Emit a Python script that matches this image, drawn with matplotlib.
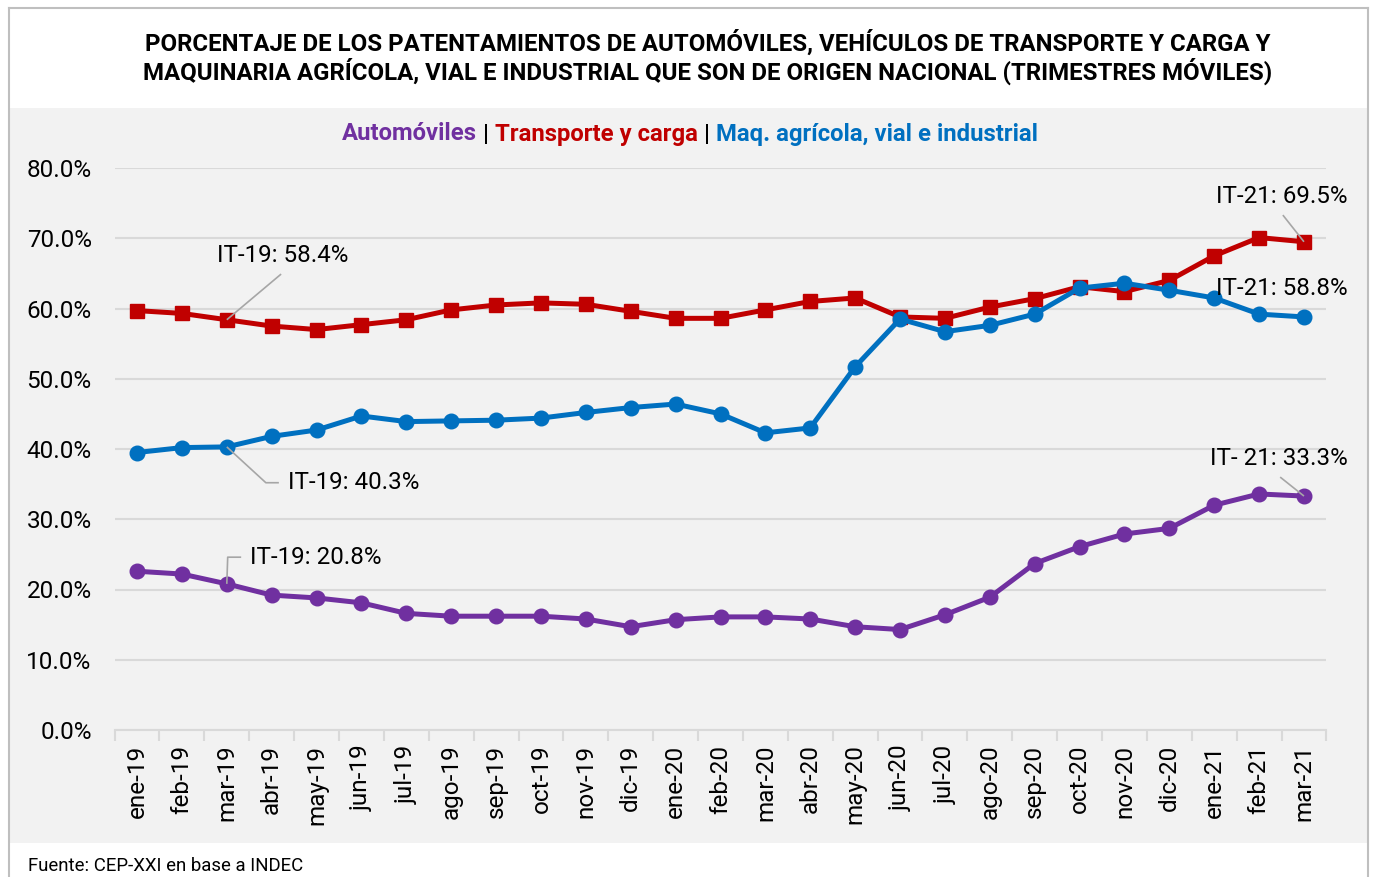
import matplotlib
matplotlib.use("Agg")
import matplotlib.pyplot as plt
from matplotlib.patches import Rectangle
from matplotlib.lines import Line2D

plt.rcParams['font.family'] = ['Roboto', 'DejaVu Sans']

months = ["ene-19", "feb-19", "mar-19", "abr-19", "may-19", "jun-19", "jul-19", "ago-19",
          "sep-19", "oct-19", "nov-19", "dic-19", "ene-20", "feb-20", "mar-20", "abr-20",
          "may-20", "jun-20", "jul-20", "ago-20", "sep-20", "oct-20", "nov-20", "dic-20",
          "ene-21", "feb-21", "mar-21"]

automoviles = [22.6, 22.2, 20.8, 19.2, 18.8, 18.1, 16.6, 16.2, 16.2, 16.2, 15.8, 14.7,
               15.7, 16.1, 16.1, 15.8, 14.7, 14.3, 16.4, 18.9, 23.7, 26.1, 27.9, 28.7,
               32.0, 33.6, 33.3]
transporte = [59.7, 59.3, 58.4, 57.5, 57.0, 57.7, 58.4, 59.8, 60.5, 60.8, 60.6, 59.6,
              58.6, 58.6, 59.8, 61.0, 61.5, 58.8, 58.6, 60.2, 61.4, 63.1, 62.4, 64.0,
              67.5, 70.1, 69.5]
maquinaria = [39.5, 40.2, 40.3, 41.8, 42.7, 44.7, 43.9, 44.0, 44.1, 44.4, 45.2, 45.9,
              46.4, 45.0, 42.3, 43.0, 51.7, 58.5, 56.7, 57.6, 59.2, 62.9, 63.6, 62.6,
              61.5, 59.2, 58.8]

yticks = [0, 10, 20, 30, 40, 50, 60, 70, 80]

C_AUTO = "#7030A0"
C_TRANS = "#C00000"
C_MAQ = "#0070C0"
C_LEAD = "#a6a6a6"

W, H = 1373, 877
fig = plt.figure(figsize=(W / 100, H / 100), dpi=100)
fig.patch.set_facecolor("white")

def fx(px):
    return px / W

def fy(py):
    return 1 - py / H

# gray panel
fig.patches.append(Rectangle((fx(9), fy(843)), fx(1368) - fx(9), fy(108) - fy(843),
                             transform=fig.transFigure, facecolor="#f2f2f2",
                             edgecolor="none", zorder=-5))
# outer border
for xs, ys in [([9, 9], [8, 877]), ([1368, 1368], [8, 877]), ([9, 1368], [8, 8])]:
    fig.lines.append(Line2D([fx(x) for x in xs], [fy(y) for y in ys],
                            transform=fig.transFigure, color="#bfbfbf", lw=1.5, zorder=-4))

fig.text(fx(708), fy(57), "PORCENTAJE DE LOS PATENTAMIENTOS DE AUTOMÓVILES, VEHÍCULOS DE TRANSPORTE Y CARGA Y\n"
         "MAQUINARIA AGRÍCOLA, VIAL E INDUSTRIAL QUE SON DE ORIGEN NACIONAL (TRIMESTRES MÓVILES)",
         ha="center", va="center", fontsize=17.3, fontweight="bold", color="black",
         linespacing=1.1)

# legend-like colored header
parts = [("Automóviles", C_AUTO), (" | ", "black"), ("Transporte y carga", C_TRANS),
         (" | ", "black"), ("Maq. agrícola, vial e industrial", C_MAQ)]
fig.canvas.draw()
renderer = fig.canvas.get_renderer()
texts = []
widths = []
for s, c in parts:
    t = fig.text(0, fy(134), s, color=c, fontsize=17.2, fontweight="bold",
                 ha="left", va="center")
    bb = t.get_window_extent(renderer=renderer)
    texts.append(t)
    widths.append(bb.width)
total = sum(widths)
start = 690 - total / 2
for t, w in zip(texts, widths):
    t.set_x(fx(start))
    start += w

fig.text(fx(28), fy(866), "Fuente: CEP-XXI en base a INDEC", fontsize=13.4,
         ha="left", va="center", color="black")

ax = fig.add_axes([fx(114.6), fy(730), fx(1326.4) - fx(114.6), fy(168) - fy(730)])
ax.set_facecolor("none")
x = list(range(len(months)))
ax.set_xlim(-0.5, len(months) - 0.5)
ax.set_ylim(0, 80)
ax.set_yticks(yticks)
ax.set_yticklabels([f"{v:.1f}%" for v in yticks])
ax.grid(axis="y", color="#d9d9d9", lw=1.5)
ax.set_axisbelow(True)
for s in ["top", "right", "left"]:
    ax.spines[s].set_visible(False)
ax.spines["bottom"].set_color("#d9d9d9")
ax.spines["bottom"].set_linewidth(1.5)
ax.tick_params(axis="y", length=0, labelsize=17.5, pad=16.5)
ax.set_xticks(x)
ax.set_xticklabels(months, rotation=90, fontsize=17.5)
ax.tick_params(axis="x", length=0, pad=10.5)
ax.set_xticks([i - 0.5 for i in range(len(months) + 1)], minor=True)
ax.tick_params(axis="x", which="minor", length=8, color="#d9d9d9", width=1.5)

lw = 3.6
ax.plot(x, transporte, color=C_TRANS, lw=lw, marker="s", ms=9.5, zorder=3)
ax.plot(x, maquinaria, color=C_MAQ, lw=lw, marker="o", ms=10.5, zorder=4)
ax.plot(x, automoviles, color=C_AUTO, lw=lw, marker="o", ms=10.5, zorder=3)

fs = 17.4
# leaders
def leader(xs, ys):
    ax.plot(xs, ys, color=C_LEAD, lw=1.2, zorder=5, solid_capstyle="butt")

leader([2, 3.21], [transporte[2], 64.9])
leader([2, 2.87, 3.16], [maquinaria[2], 35.2, 35.2])
leader([2, 2.02, 2.32], [automoviles[2], 24.6, 24.6])
leader([26, 25.53], [transporte[26], 73.3])
leader([26, 25.47], [automoviles[26], 36.0])

ax.text(1.78, 67.5, "IT-19: 58.4%", fontsize=fs, ha="left", va="center")
ax.text(3.36, 35.2, "IT-19: 40.3%", fontsize=fs, ha="left", va="center")
ax.text(2.52, 24.6, "IT-19: 20.8%", fontsize=fs, ha="left", va="center")
ax.text(26.98, 76.0, "IT-21: 69.5%", fontsize=fs, ha="right", va="center")
ax.text(26.98, 62.9, "IT-21: 58.8%", fontsize=fs, ha="right", va="center", zorder=6)
ax.text(26.98, 38.6, "IT- 21: 33.3%", fontsize=fs, ha="right", va="center")

fig.savefig("out.png", dpi=100)
